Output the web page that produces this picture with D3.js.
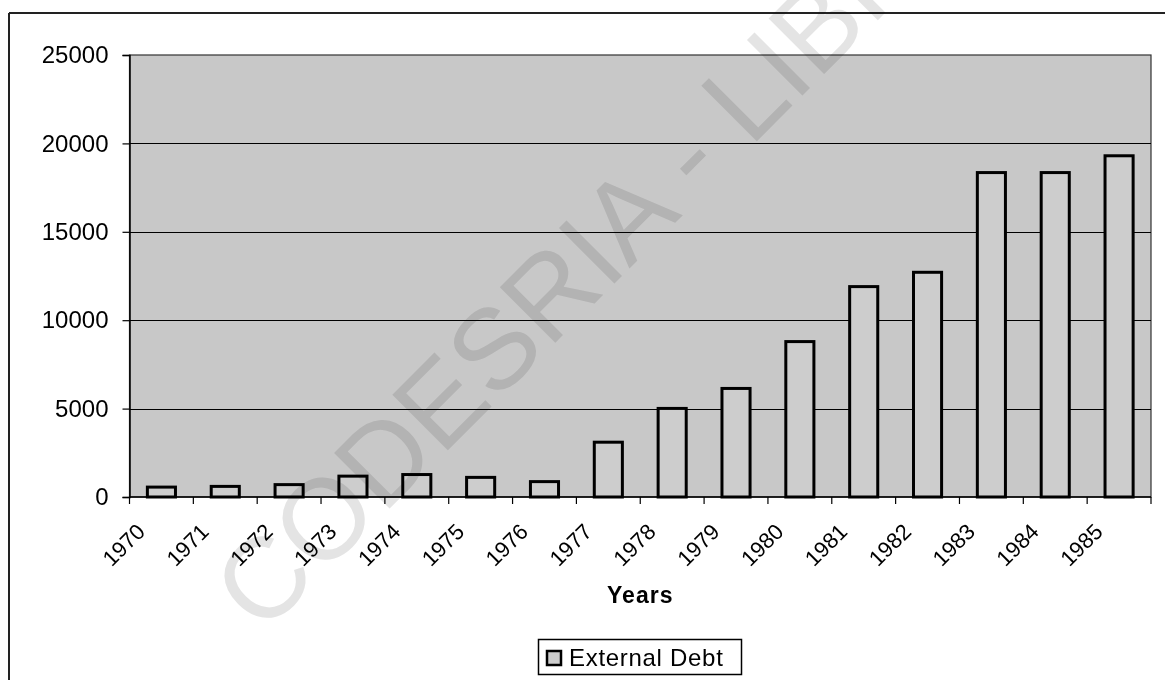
<!DOCTYPE html>
<html>
<head>
<meta charset="utf-8">
<script src="https://cdn.jsdelivr.net/npm/d3@7"></script>
<style>
  html, body { margin: 0; padding: 0; background: #fff; }
  svg { display: block; font-family: Arial, "Liberation Sans", sans-serif; }
</style>
</head>
<body>
<svg id="chart" width="1165" height="680"></svg>
<script>
// External debt by year
const years = ["1970","1971","1972","1973","1974","1975","1976","1977",
               "1978","1979","1980","1981","1982","1983","1984","1985"];
const externalDebt = [560, 600, 700, 1180, 1270, 1110, 870, 3100,
                      5010, 6140, 8790, 11900, 12710, 18350, 18350, 19300];
const yTicks = [0, 5000, 10000, 15000, 20000, 25000];
const seriesName = "External Debt";
const axisTitle = "Years";
const stampText = "CODESRIA - LIBRARY";

const svg = d3.select("#chart");
const plot = { left: 129.5, right: 1151, top: 55, bottom: 497 };

const x = d3.scaleBand().domain(years).range([plot.left, plot.right]).padding(0);
const xBar = d3.scaleBand().domain(years).range([plot.left, plot.right])
  .paddingInner(0.56).paddingOuter(0.28);
const y = d3.scaleLinear().domain([0, 25000]).range([plot.bottom, plot.top]);

// outer chart frame (top and left edges)
svg.append("line").attr("x1", 9).attr("x2", 1165).attr("y1", 13).attr("y2", 13)
  .attr("stroke", "#222").attr("stroke-width", 2);
svg.append("line").attr("x1", 9).attr("x2", 9).attr("y1", 13).attr("y2", 680)
  .attr("stroke", "#222").attr("stroke-width", 2);

// plot area
svg.append("rect")
  .attr("x", plot.left).attr("y", plot.top)
  .attr("width", plot.right - plot.left).attr("height", plot.bottom - plot.top)
  .attr("fill", "#c8c8c8")
  .attr("stroke", "#333").attr("stroke-width", 1.2);

// horizontal gridlines
svg.append("g").selectAll("line")
  .data(yTicks.filter(d => d > 0 && d < 25000))
  .join("line")
  .attr("x1", plot.left).attr("x2", plot.right)
  .attr("y1", d => Math.round(y(d)) + 0.5).attr("y2", d => Math.round(y(d)) + 0.5)
  .attr("stroke", "#000").attr("stroke-width", 1);

// bars
svg.append("g").selectAll("rect")
  .data(years.map((yr, i) => ({ yr, v: externalDebt[i] })))
  .join("rect")
  .attr("x", d => xBar(d.yr))
  .attr("width", xBar.bandwidth())
  .attr("y", d => y(d.v))
  .attr("height", d => y(0) - y(d.v))
  .attr("fill", "#cdcdcd")
  .attr("stroke", "#000").attr("stroke-width", 3);

// y axis
const yAxis = svg.append("g")
  .attr("transform", `translate(${plot.left},0)`)
  .call(d3.axisLeft(y).tickValues(yTicks).tickSize(7).tickPadding(14).tickFormat(d3.format("d")));
yAxis.select(".domain").attr("stroke", "#000").attr("stroke-width", 1.5);
yAxis.selectAll(".tick line").attr("stroke", "#000").attr("stroke-width", 1.2);
yAxis.selectAll("text").attr("font-size", 24).attr("fill", "#000")
  .attr("font-family", "Arial, 'Liberation Sans', sans-serif");

// x axis: ticks at category boundaries
const xAxisG = svg.append("g");
xAxisG.append("line")
  .attr("x1", plot.left).attr("x2", plot.right)
  .attr("y1", plot.bottom).attr("y2", plot.bottom)
  .attr("stroke", "#000").attr("stroke-width", 1.5);
const boundaries = years.map(yr => x(yr)).concat([x(years[years.length - 1]) + x.bandwidth()]);
xAxisG.selectAll("line.tick")
  .data(boundaries)
  .join("line")
  .attr("class", "tick")
  .attr("x1", d => d).attr("x2", d => d)
  .attr("y1", plot.bottom).attr("y2", plot.bottom + 7)
  .attr("stroke", "#000").attr("stroke-width", 1.2);

// rotated year labels
xAxisG.selectAll("text")
  .data(years)
  .join("text")
  .attr("transform", d => `translate(${x(d) + x.bandwidth() / 2 - 15},${plot.bottom + 36}) rotate(-45)`)
  .attr("text-anchor", "end")
  .attr("font-size", 22)
  .attr("fill", "#000")
  .text(d => d);

// axis title
svg.append("text")
  .attr("x", (plot.left + plot.right) / 2)
  .attr("y", 603)
  .attr("text-anchor", "middle")
  .attr("font-size", 23)
  .attr("font-weight", "bold")
  .attr("letter-spacing", 1)
  .attr("fill", "#000")
  .text(axisTitle);

// legend
const legend = svg.append("g");
legend.append("rect")
  .attr("x", 538.5).attr("y", 639.5).attr("width", 203).attr("height", 35)
  .attr("fill", "#fff").attr("stroke", "#000").attr("stroke-width", 1.5);
legend.append("rect")
  .attr("x", 547).attr("y", 651).attr("width", 14).attr("height", 14)
  .attr("fill", "#cdcdcd").attr("stroke", "#000").attr("stroke-width", 2.5);
legend.append("text")
  .attr("x", 569).attr("y", 666)
  .attr("font-size", 24)
  .attr("letter-spacing", 0.7)
  .attr("fill", "#000")
  .text(seriesName);

// diagonal stamp across the page
svg.append("text")
  .attr("transform", "translate(262,636) rotate(-45)")
  .attr("font-size", 114)
  .attr("fill", "#e4e4e4")
  .style("mix-blend-mode", "multiply")
  .text(stampText);
</script>
</body>
</html>
